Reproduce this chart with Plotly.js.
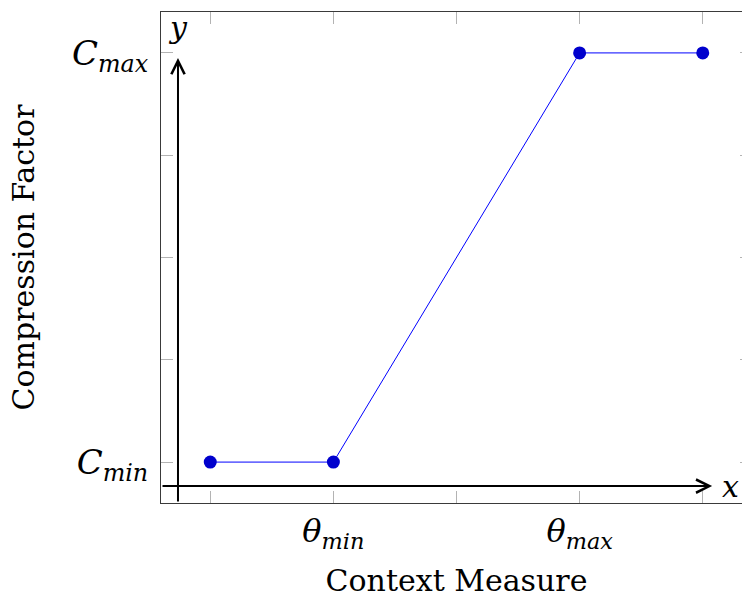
<!DOCTYPE html>
<html>
<head>
<meta charset="utf-8">
<script src="https://cdn.plot.ly/plotly-3.0.1.min.js"></script>
<style>
html,body{margin:0;padding:0;overflow:hidden;background:#fff;}
#chart{width:761px;height:599px;}
</style>
</head>
<body>
<div id="chart"></div>
<script>
// Data
const xValues = [0.5, 1, 2, 2.5];
const yValues = [0.2, 0.2, 1.0, 1.0];
const xLabelVals = [1, 2];
const xLabelText = ['<i>θ</i><sub><i>min</i></sub>', '<i>θ</i><sub><i>max</i></sub>'];
const xPlainTicks = [0.5, 1.5, 2.5];
const yLabelVals = [0.2, 1.0];
const yLabelText = ['<i>C</i><sub><i>min</i></sub>', '<i>C</i><sub><i>max</i></sub>'];
const yPlainTicks = [0.4, 0.6, 0.8];
const xRange = [0.3, 2.7];
const yRange = [0.12, 1.08];
const axisCross = {x: 0.369, y: 0.153};
const arrowEnds = {x: 2.538, y: 0.99};

const FONT = 'DejaVu Serif, Liberation Serif, serif';
const TICKGRAY = '#b3b3b3';

const trace = {
  x: xValues, y: yValues,
  type: 'scatter', mode: 'lines+markers',
  line: {color: '#0000ff', width: 1},
  marker: {color: 'rgb(0,0,205)', size: 13},
  hoverinfo: 'skip', showlegend: false
};

const axisCommon = {
  showgrid: false, zeroline: false,
  showline: true, linecolor: '#3a3a3a', linewidth: 1,
  mirror: 'ticks', ticks: 'inside', ticklen: 12, tickcolor: TICKGRAY, tickwidth: 1,
  tickmode: 'array', fixedrange: true
};

const layout = {
  width: 761, height: 599, autosize: false,
  margin: {l: 161, r: 9, t: 12, b: 96},
  paper_bgcolor: '#fff', plot_bgcolor: '#fff',
  font: {family: FONT, color: '#000'},
  xaxis: Object.assign({}, axisCommon, {
    range: xRange, tickvals: xLabelVals, ticktext: xLabelText,
    tickfont: {family: FONT, size: 32, color: '#000'},
    minor: {tickmode: 'array', tickvals: xPlainTicks, ticks: 'inside', ticklen: 12, tickcolor: TICKGRAY, tickwidth: 1, showgrid: false},
    title: {text: 'Context Measure', font: {family: FONT, size: 30, color: '#000'}, standoff: 16}
  }),
  yaxis: Object.assign({}, axisCommon, {
    range: yRange, tickvals: yLabelVals, ticktext: yLabelText,
    tickfont: {family: FONT, size: 34, color: '#000'},
    ticklabelstandoff: 5,
    minor: {tickmode: 'array', tickvals: yPlainTicks, ticks: 'inside', ticklen: 12, tickcolor: TICKGRAY, tickwidth: 1, showgrid: false},
    title: {text: 'Compression Factor', font: {family: FONT, size: 30, color: '#000'}, standoff: 28}
  }),
  annotations: [
    {x: axisCross.x, y: arrowEnds.y, ax: axisCross.x, ay: yRange[0], xref: 'x', yref: 'y', axref: 'x', ayref: 'y',
     text: '', showarrow: true, arrowhead: 5, arrowsize: 1.3, arrowwidth: 2, arrowcolor: '#000', standoff: 0},
    {x: arrowEnds.x, y: axisCross.y, ax: xRange[0], ay: axisCross.y, xref: 'x', yref: 'y', axref: 'x', ayref: 'y',
     text: '', showarrow: true, arrowhead: 5, arrowsize: 1.3, arrowwidth: 2, arrowcolor: '#000', standoff: 0},
    {x: axisCross.x, y: 1.049, xref: 'x', yref: 'y', text: '<i>y</i>', showarrow: false,
     font: {family: FONT, size: 30, color: '#000'}},
    {x: 2.611, y: axisCross.y, xref: 'x', yref: 'y', text: '<i>x</i>', showarrow: false,
     font: {family: FONT, size: 30, color: '#000'}}
  ]
};

Plotly.newPlot('chart', [trace], layout, {staticPlot: true, displayModeBar: false});
</script>
</body>
</html>
